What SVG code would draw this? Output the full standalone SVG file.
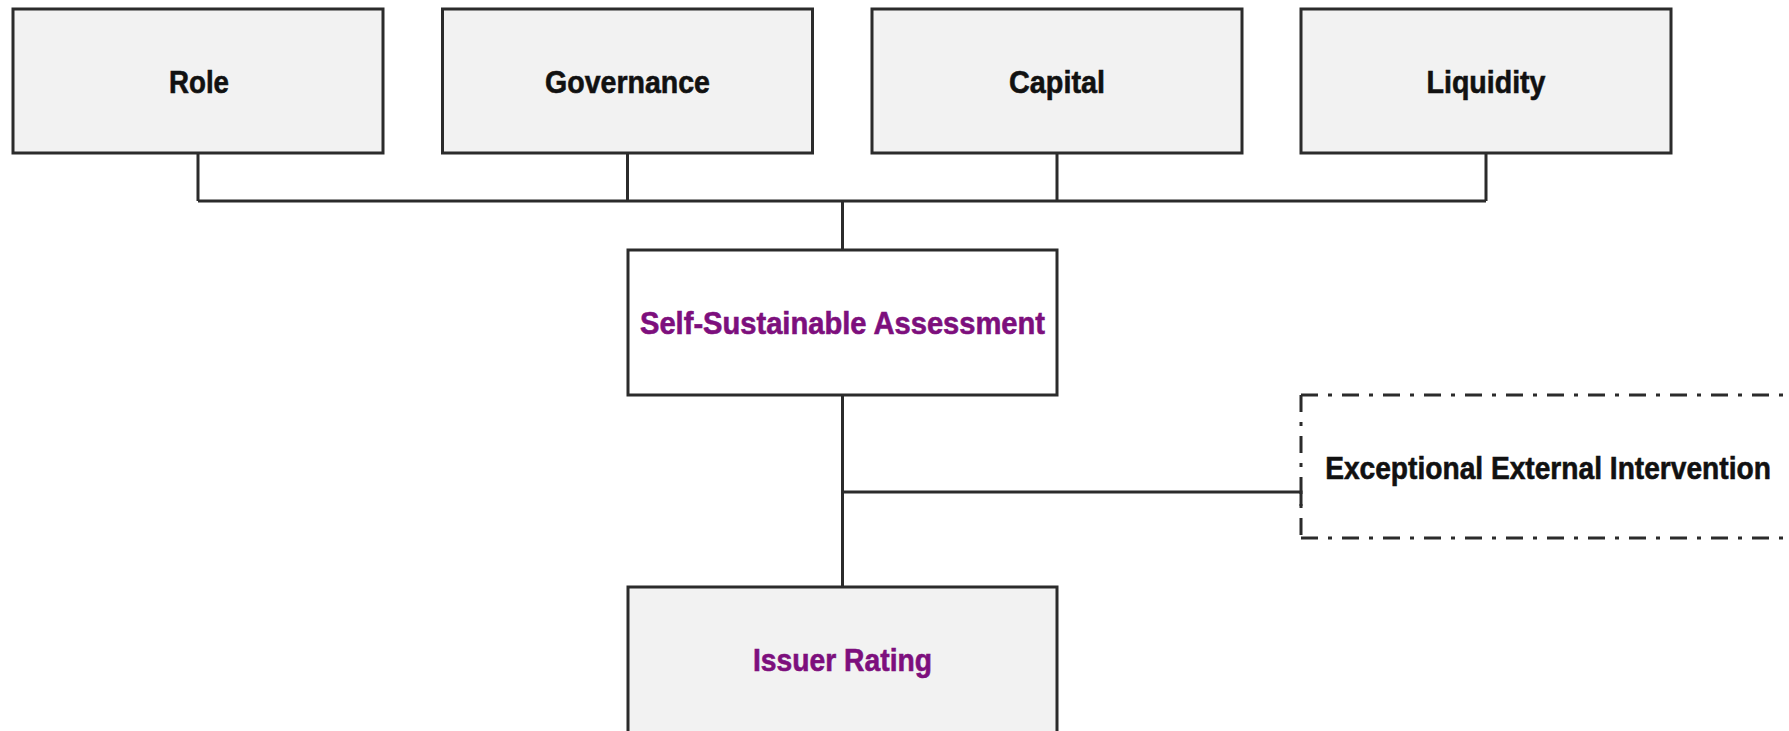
<svg xmlns="http://www.w3.org/2000/svg" width="1789" height="731" viewBox="0 0 1789 731">
  <style>
    .box { fill: #f2f2f2; stroke: #2b2b2b; stroke-width: 3; }
    .box-white { fill: #ffffff; stroke: #2b2b2b; stroke-width: 3; }
    .dashed { fill: none; stroke: #2b2b2b; stroke-width: 3; stroke-dasharray: 17 10 4 10; }
    .wire { fill: none; stroke: #2b2b2b; stroke-width: 3; }
    .label { font-family: "Liberation Sans", Arial, sans-serif; font-weight: bold; font-size: 32px; text-anchor: middle; fill: #111111; stroke: #111111; stroke-width: 0.6; }
    .accent { fill: #7d0f7d; stroke: #7d0f7d; }
  </style>
  <rect width="1789" height="731" fill="#ffffff"/>

  <!-- connectors -->
  <g id="connectors">
    <path class="wire" d="M198,153 V201 M627.5,153 V201 M1057,153 V201 M1486,153 V201 M198,201 H1486"/>
    <path class="wire" d="M842.5,201 V250"/>
    <path class="wire" d="M842.5,395 V587"/>
    <path class="wire" d="M842.5,492 H1301 V506"/>
  </g>

  <!-- top row of factors -->
  <g id="node-role">
    <rect class="box" x="13" y="9" width="370" height="144"/>
    <text class="label" x="199" y="93" textLength="60" lengthAdjust="spacingAndGlyphs">Role</text>
  </g>
  <g id="node-governance">
    <rect class="box" x="442.5" y="9" width="370" height="144"/>
    <text class="label" x="627.5" y="93" textLength="165" lengthAdjust="spacingAndGlyphs">Governance</text>
  </g>
  <g id="node-capital">
    <rect class="box" x="872" y="9" width="370" height="144"/>
    <text class="label" x="1057" y="93" textLength="96" lengthAdjust="spacingAndGlyphs">Capital</text>
  </g>
  <g id="node-liquidity">
    <rect class="box" x="1301" y="9" width="370" height="144"/>
    <text class="label" x="1486" y="93" textLength="119" lengthAdjust="spacingAndGlyphs">Liquidity</text>
  </g>

  <!-- combined assessment -->
  <g id="node-self-sustainable">
    <rect class="box-white" x="628" y="250" width="429" height="145"/>
    <text class="label accent" x="842.5" y="334" textLength="405" lengthAdjust="spacingAndGlyphs">Self-Sustainable Assessment</text>
  </g>

  <!-- open-ended dash-dot box running off the right edge -->
  <g id="node-external-intervention">
    <path class="dashed" d="M1301,395 H1789"/>
    <path class="dashed" d="M1301,538 H1789"/>
    <path class="dashed" d="M1301,395 V538"/>
    <text class="label" transform="translate(1548,479) scale(0.88,1)" x="0" y="0">Exceptional External Intervention</text>
  </g>

  <!-- final rating -->
  <g id="node-issuer-rating">
    <rect class="box" x="628" y="587" width="429" height="160"/>
    <text class="label accent" x="842.5" y="671" textLength="179" lengthAdjust="spacingAndGlyphs">Issuer Rating</text>
  </g>
</svg>
